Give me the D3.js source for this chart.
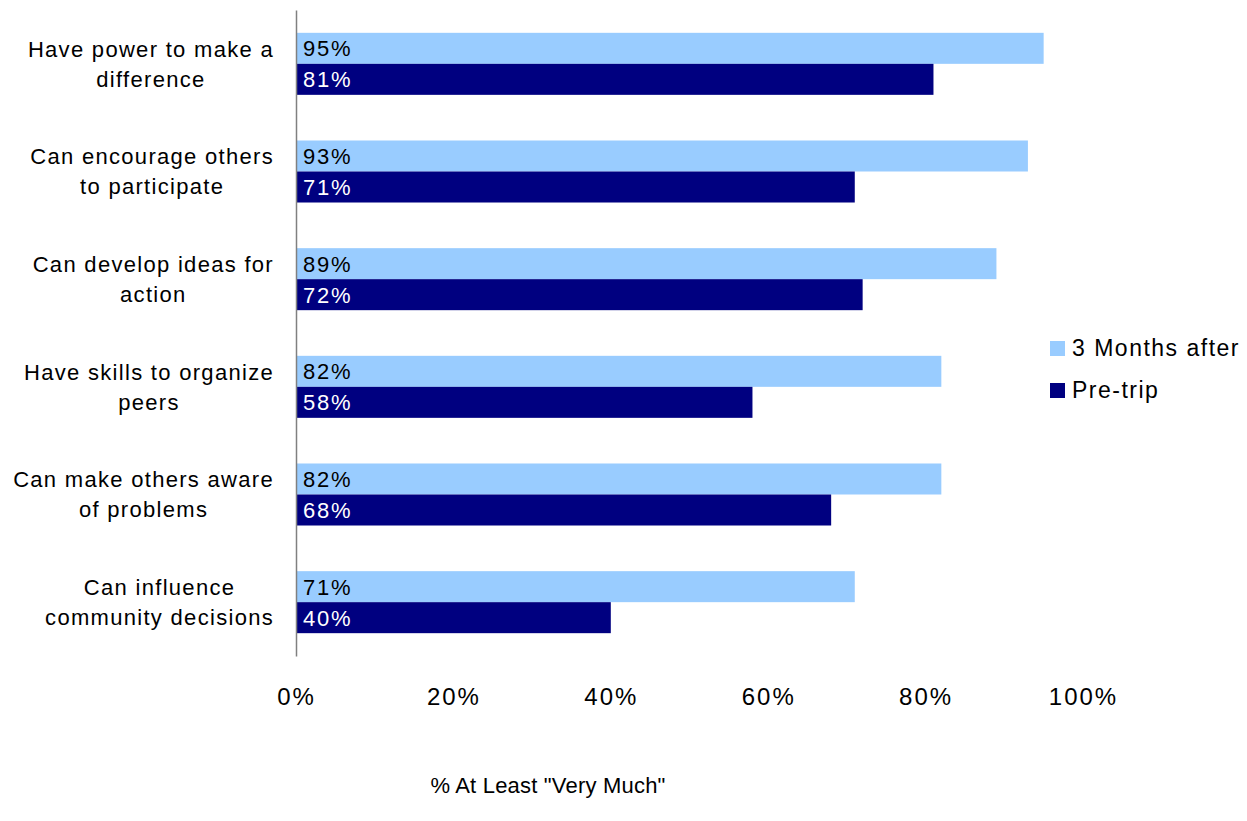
<!DOCTYPE html>
<html>
<head>
<meta charset="utf-8">
<script src="https://cdn.jsdelivr.net/npm/d3@7"></script>
<style>
  html, body { margin: 0; padding: 0; background: #fff; }
  svg { display: block; font-family: "Liberation Sans", Arial, sans-serif; }
</style>
</head>
<body>
<svg id="chart" width="1247" height="821"></svg>
<script>
// Statements about youth civic efficacy, with share answering at least "Very Much"
const categories = [
  ["Have power to make a", "difference"],
  ["Can encourage others", "to participate"],
  ["Can develop ideas for", "action"],
  ["Have skills to organize", "peers"],
  ["Can make others aware", "of problems"],
  ["Can influence", "community decisions"]
];
const seriesNames = ["3 Months after", "Pre-trip"];
const afterValues = [95, 93, 89, 82, 82, 71];
const preValues   = [81, 71, 72, 58, 68, 40];
const tickValues  = [0, 20, 40, 60, 80, 100];
const axisTitle   = '% At Least "Very Much"';
const colors = ["#99CCFF", "#000080"];

const svg = d3.select("#chart");
const keys = categories.map(c => c.join(" "));
const rows = keys.map((k, i) => ({ key: k, lines: categories[i], values: [afterValues[i], preValues[i]] }));

const x = d3.scaleLinear().domain([0, 100]).range([296, 1083]);
const y = d3.scaleBand().domain(keys).range([10, 656]).paddingInner(0.424).paddingOuter(0.212);
const ySub = d3.scaleBand().domain(seriesNames).range([0, y.bandwidth()]);

// Bars
const groups = svg.append("g").selectAll("g").data(rows).join("g")
  .attr("transform", d => `translate(0,${y(d.key)})`);

groups.selectAll("rect").data(d => d.values.map((v, j) => ({ v, j })))
  .join("rect")
  .attr("x", x(0))
  .attr("y", d => ySub(seriesNames[d.j]))
  .attr("width", d => x(d.v) - x(0))
  .attr("height", ySub.bandwidth())
  .attr("fill", d => colors[d.j]);

// Value labels inside bars
groups.selectAll("text.val").data(d => d.values.map((v, j) => ({ v, j })))
  .join("text")
  .attr("class", "val")
  .attr("x", x(0) + 7)
  .attr("y", d => ySub(seriesNames[d.j]) + ySub.bandwidth() / 2)
  .attr("dy", "0.36em")
  .attr("font-size", 22)
  .attr("letter-spacing", 1.8)
  .attr("fill", d => d.j === 0 ? "#000" : "#fff")
  .text(d => d.v + "%");

// Vertical category axis line
const yAxis = svg.append("g")
  .attr("transform", `translate(${x(0)},0)`)
  .call(d3.axisLeft(y).tickSize(0).tickSizeOuter(0).tickFormat(""));
yAxis.select(".domain").attr("stroke", "#808080").attr("stroke-width", 1.5);

// Category labels, two centred lines, block right-aligned near the axis
const labelRight = 274;
const catLabels = svg.append("g")
  .attr("font-size", 22)
  .attr("letter-spacing", 1.3)
  .attr("fill", "#000");

rows.forEach(r => {
  const cy = y(r.key) + y.bandwidth() / 2;
  const t = catLabels.append("text").attr("text-anchor", "middle");
  const spans = r.lines.map((line, i) =>
    t.append("tspan").attr("y", cy + (i - (r.lines.length - 1) / 2) * 30).attr("dy", "0.36em").text(line));
  const maxW = d3.max(spans, s => s.node().getComputedTextLength());
  const cx = labelRight - maxW / 2;
  spans.forEach(s => s.attr("x", cx));
});

// Percentage axis
const xAxis = svg.append("g")
  .attr("transform", "translate(0,680)")
  .call(d3.axisBottom(x).tickValues(tickValues).tickFormat(d => d + "%").tickSize(0).tickPadding(0));
xAxis.select(".domain").remove();
xAxis.selectAll("text")
  .attr("font-family", "Liberation Sans, Arial, sans-serif")
  .attr("font-size", 24)
  .attr("letter-spacing", 2)
  .attr("fill", "#000")
  .attr("y", 16)
  .attr("dy", "0.36em");

// Axis title
svg.append("text")
  .attr("x", 548)
  .attr("y", 785)
  .attr("dy", "0.36em")
  .attr("text-anchor", "middle")
  .attr("font-size", 22)
  .attr("letter-spacing", 0.2)
  .attr("fill", "#000")
  .text(axisTitle);

// Legend
const legend = svg.append("g").attr("transform", "translate(1050,341)");
const items = legend.selectAll("g").data(seriesNames).join("g")
  .attr("transform", (d, i) => `translate(0,${i * 42})`);
items.append("rect").attr("width", 15).attr("height", 15).attr("fill", (d, i) => colors[i]);
items.append("text")
  .attr("x", 22)
  .attr("y", 7)
  .attr("dy", "0.36em")
  .attr("font-size", 23)
  .attr("letter-spacing", 1.5)
  .attr("fill", "#000")
  .text(d => d);
</script>
</body>
</html>
